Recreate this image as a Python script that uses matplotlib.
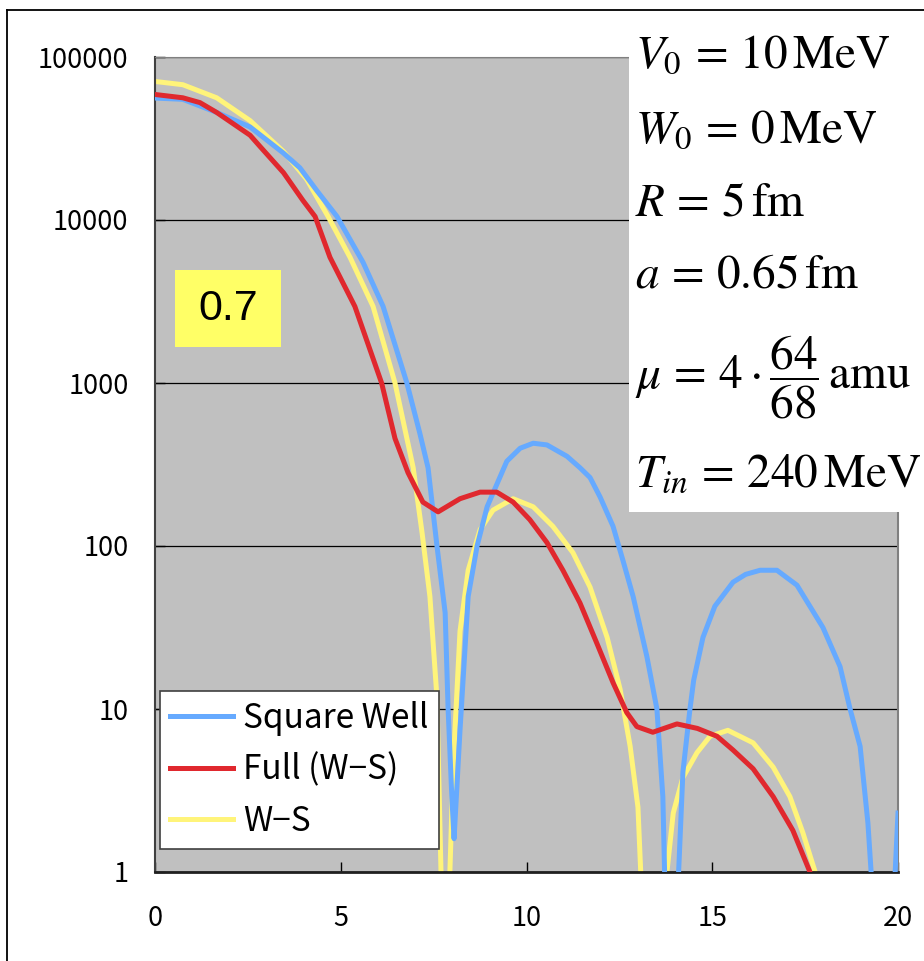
import matplotlib
matplotlib.use("Agg")
import matplotlib.pyplot as plt
from matplotlib.patches import Rectangle
from matplotlib.lines import Line2D

# Square Well
x_sw = [0, 0.75, 1.66, 2.56, 3.46, 3.9, 4.36, 4.9, 5.6, 6.14, 6.78, 7.13, 7.35, 7.59, 7.81, 7.89, 7.99,
        8.05, 8.21, 8.43, 8.67, 8.94, 9.47, 9.83, 10.18, 10.55, 11.09, 11.44, 11.71, 11.98, 12.33, 12.6,
        12.87, 13.24, 13.51, 13.67, 13.85, 14.21, 14.4, 14.5, 14.75, 15.07, 15.56, 15.9, 16.29, 16.74,
        17.28, 17.98, 18.44, 18.71, 18.98, 19.19, 19.65, 20.0]
y_sw = [56000, 55000, 45700, 37200, 25700, 20900, 15100, 10500, 5500, 2950, 1000, 490, 302, 100, 39, 10, 2.9,
        1.6, 7.4, 49, 100, 174, 331, 398, 427, 417, 355, 302, 263, 200, 132, 81,
        49, 21, 10, 2.9, 0.05, 4.1, 10, 15, 27.5, 42.7, 60, 67, 71, 71,
        57.5, 31.6, 18.2, 10, 5.9, 2.0, 0.05, 2.3]

# Full (W-S)
x_full = [0, 0.75, 1.21, 1.66, 2.56, 2.83, 3.46, 3.98, 4.31, 4.71, 5.38, 6.1, 6.46, 6.81, 7.21, 7.62,
          8.21, 8.75, 9.2, 9.64, 10.09, 10.55, 10.98, 11.44, 11.9, 12.33, 12.7, 12.97, 13.4, 14.05,
          14.6, 15.13, 15.56, 16.1, 16.64, 17.17, 17.63, 18.0]
y_full = [58900, 56200, 52500, 45700, 33100, 28200, 19500, 13200, 10500, 5900, 2950, 1000, 457, 282, 186, 162,
          195, 214, 214, 186, 145, 105, 71, 44.7, 25.1, 14.5, 9.5, 7.8, 7.2, 8.1,
          7.6, 6.8, 5.6, 4.3, 2.9, 1.8, 1.0, 0.32]

# W-S
x_ws = [0, 0.75, 1.66, 2.56, 3.46, 4.08, 4.66, 5.25, 5.87, 6.46, 6.95, 7.19, 7.4, 7.59, 7.8, 8.03,
        8.21, 8.43, 8.75, 9.1, 9.64, 10.18, 10.71, 11.25, 11.71, 12.17, 12.52, 12.79, 13.0, 13.45,
        13.78, 13.95, 14.21, 14.59, 14.94, 15.42, 16.1, 16.64, 17.09, 17.44, 17.77, 18.0]
y_ws = [70800, 67600, 56200, 40700, 26300, 17800, 10500, 5900, 2950, 1000, 302, 120, 49, 11.7, 0.1, 4.7,
        30, 71, 126, 166, 195, 174, 132, 91, 56, 27.5, 13.2, 5.9, 2.5, 0.01,
        1.0, 2.3, 3.8, 5.4, 6.8, 7.4, 6.2, 4.4, 2.9, 1.74, 1.0, 0.5]

yticks = [1, 10, 100, 1000, 10000, 100000]
ytick_labels = ["1", "10", "100", "1000", "10000", "100000"]
xticks = [0, 5, 10, 15, 20]

params = [r"$V_0 \,=\, 10\,\mathrm{MeV}$",
          r"$W_0 \,=\, 0\,\mathrm{MeV}$",
          r"$R \,=\, 5\,\mathrm{fm}$",
          r"$a \,=\, 0.65\,\mathrm{fm}$",
          r"$\mu \,=\, 4\cdot\dfrac{64}{68}\,\mathrm{amu}$",
          r"$T_{in} \,=\, 240\,\mathrm{MeV}$"]
param_base = [68, 143, 215, 287, 388, 487]

plt.rcParams['font.family'] = ['Noto Sans CJK JP', 'DejaVu Sans']
plt.rcParams['mathtext.fontset'] = 'stix'

W, H = 924, 961
fig = plt.figure(figsize=(W / 100, H / 100), dpi=100)
ax = fig.add_axes([155 / W, 1 - 872 / H, (898 - 155) / W, (872 - 57) / H])
ax.set_facecolor('#C0C0C0')

l_ws, = ax.plot(x_ws, y_ws, color='#FFF47A', lw=3.6, label='W−S', zorder=2)
l_sw, = ax.plot(x_sw, y_sw, color='#66AAFF', lw=3.6, label='Square Well', zorder=3)
l_full, = ax.plot(x_full, y_full, color='#E0282E', lw=3.6, label='Full (W−S)', zorder=4)

ax.set_yscale('log')
ax.set_ylim(1, 100000)
ax.set_xlim(0, 20)
ax.set_yticks(yticks)
ax.set_yticklabels(ytick_labels)
ax.minorticks_off()
ax.set_xticks(xticks)
ax.set_xticklabels([str(t) for t in xticks])
ax.tick_params(axis='both', direction='in', length=7, width=1, labelsize=19.5)
ax.tick_params(axis='y', pad=19)
ax.tick_params(axis='x', pad=24)
ax.grid(axis='y', color='black', lw=0.9)
ax.set_axisbelow(True)

ax.spines['left'].set_color('#404040')
ax.spines['left'].set_linewidth(1.5)
ax.spines['bottom'].set_color('#202020')
ax.spines['bottom'].set_linewidth(2)
ax.spines['top'].set_color('#808080')
ax.spines['right'].set_color('#808080')
ax.spines['right'].set_linewidth(1.5)

leg = ax.legend(handles=[l_sw, l_full, l_ws], loc='lower left',
                bbox_to_anchor=(5 / 743, 23 / 815), borderaxespad=0,
                fontsize=24, handlelength=1.9, handletextpad=0.3,
                labelspacing=0.5, borderpad=0.3, fancybox=False,
                framealpha=1, edgecolor='#404040')
leg.get_frame().set_linewidth(1.2)

# yellow label box
ax.add_patch(Rectangle((20 / 743, (872 - 347) / 815), 106 / 743, 77 / 815,
                       transform=ax.transAxes, facecolor='#FFFF66', edgecolor='none', zorder=5))
ax.text((228 - 155) / 743, (872 - 309) / 815, "0.7", transform=ax.transAxes,
        fontsize=31, family='Liberation Sans', ha='center', va='center', zorder=6)

# white parameter box over the top right corner
fig.add_artist(Rectangle((629 / W, 1 - 512 / H), 1 - 629 / W, (512 - 12) / H,
                         transform=fig.transFigure, facecolor='white', edgecolor='none', zorder=5))
for s, b in zip(params, param_base):
    fig.text(635 / W, 1 - b / H, s, fontsize=34, va='baseline', ha='left', zorder=6)

# outer frame
fig.add_artist(Line2D([7 / W, 7 / W], [0, 1 - 10 / H], color='black', lw=1.3, zorder=7))
fig.add_artist(Line2D([7 / W, 1], [1 - 10 / H, 1 - 10 / H], color='black', lw=1.3, zorder=7))

fig.savefig('out.png', dpi=100, facecolor='white')
